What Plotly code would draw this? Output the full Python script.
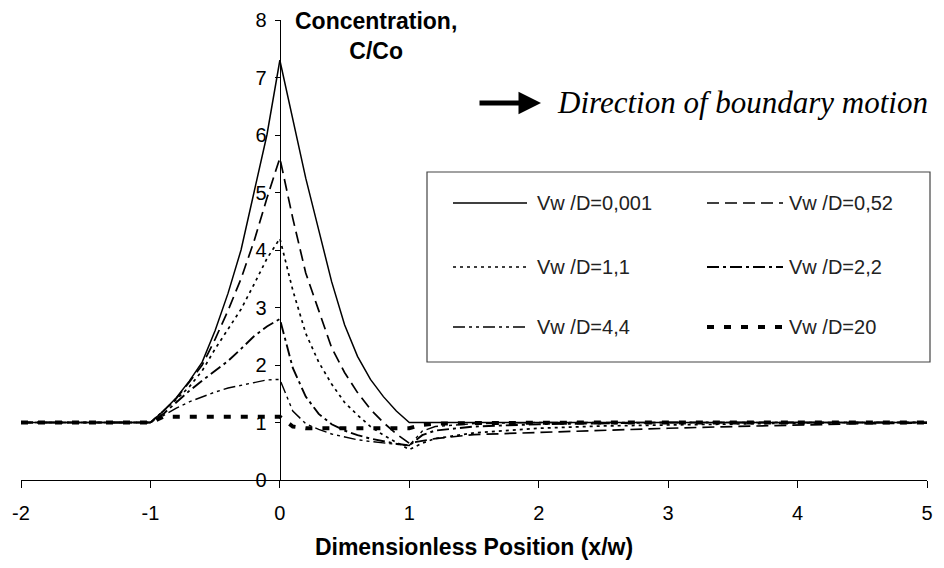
import plotly.graph_objects as go

# ---------------- data ----------------
x_pos = [-2, -1, -0.9, -0.8, -0.7, -0.6, -0.5, -0.4, -0.3, -0.2, -0.1, 0,
         0.1, 0.2, 0.3, 0.4, 0.5, 0.6, 0.7, 0.8, 0.9, 1.0,
         1.1, 1.2, 1.5, 2.0, 2.5, 3.0, 3.5, 4.0, 4.5, 5.0]

c_0001 = [1, 1, 1.2, 1.43, 1.72, 2.05, 2.6, 3.25, 4.0, 5.0, 6.0, 7.3,
          6.3, 5.25, 4.35, 3.45, 2.7, 2.15, 1.75, 1.45, 1.2, 1.0,
          1, 1, 1, 1, 1, 1, 1, 1, 1, 1]

c_052 = [1, 1, 1.2, 1.42, 1.7, 2.0, 2.45, 2.95, 3.5, 4.15, 4.9, 5.6,
         4.55, 3.6, 2.95, 2.3, 1.87, 1.52, 1.23, 1.0, 0.8, 0.64,
         0.68, 0.72, 0.79, 0.83, 0.86, 0.9, 0.93, 0.96, 0.98, 0.99]

c_11 = [1, 1, 1.2, 1.4, 1.62, 1.9, 2.28, 2.63, 2.97, 3.4, 3.85, 4.2,
        3.3, 2.55, 2.05, 1.67, 1.35, 1.13, 0.93, 0.78, 0.65, 0.53,
        0.64, 0.72, 0.82, 0.9, 0.94, 0.96, 0.98, 0.99, 1.0, 1.0]

c_22 = [1, 1, 1.15, 1.35, 1.55, 1.73, 1.9, 2.07, 2.28, 2.5, 2.67, 2.8,
        1.95, 1.45, 1.15, 0.97, 0.86, 0.78, 0.72, 0.67, 0.63, 0.6,
        0.78, 0.86, 0.93, 0.97, 0.99, 1.0, 1.0, 1.0, 1.0, 1.0]

c_44 = [1, 1, 1.12, 1.25, 1.36, 1.45, 1.53, 1.6, 1.65, 1.7, 1.74, 1.75,
        1.2, 0.98, 0.88, 0.8, 0.75, 0.7, 0.67, 0.64, 0.62, 0.6,
        0.85, 0.93, 0.98, 1.0, 1.0, 1.0, 1.0, 1.0, 1.0, 1.0]

c_20 = [1, 1, 1.1, 1.1, 1.1, 1.1, 1.1, 1.1, 1.1, 1.1, 1.1, 1.1,
        0.93, 0.9, 0.9, 0.9, 0.9, 0.9, 0.9, 0.9, 0.9, 0.9,
        0.96, 0.98, 0.99, 1.0, 1.0, 1.0, 1.0, 1.0, 1.0, 1.0]

series_names = ["Vw /D=0,001", "Vw /D=0,52", "Vw /D=1,1",
                "Vw /D=2,2", "Vw /D=4,4", "Vw /D=20"]
series_values = [c_0001, c_052, c_11, c_22, c_44, c_20]

x_ticks = [-2, -1, 0, 1, 2, 3, 4, 5]
x_tick_labels = ["-2", "-1", "0", "1", "2", "3", "4", "5"]
y_ticks = [0, 1, 2, 3, 4, 5, 6, 7, 8]

x_title = "Dimensionless Position (x/w)"
y_title = "Concentration,<br>C/Co"
note_text = "Direction of boundary motion"

# ---------------- styles ----------------
styles = [
    dict(dash="solid", width=1.5),
    dict(dash="12px,6px", width=1.7),
    dict(dash="3px,4px", width=1.7),
    dict(dash="12px,4px,3px,4px", width=1.9),
    dict(dash="12px,4px,3px,4px,3px,4px", width=1.4),
    dict(dash="7px,10px", width=4),
]

FONT = "Liberation Sans, Arial, sans-serif"

fig = go.Figure()
for name, vals, st in zip(series_names, series_values, styles):
    fig.add_trace(go.Scatter(
        x=x_pos, y=vals, mode="lines", name=name,
        line=dict(color="black", width=st["width"], dash=st["dash"]),
        showlegend=False,
    ))

# page body has an 8px margin -> figure is offset by 8px
OFF = 8
W, H = 936, 552
ML, MR, MT, MB = 13, 17, 12, 80
PW, PH = W - ML - MR, H - MT - MB


def px(xr):
    """reference-image x pixel -> paper coordinate"""
    return (xr - OFF - ML) / PW


def py(yr):
    """reference-image y pixel -> paper coordinate"""
    return (H - MB - (yr - OFF)) / PH


# ---------------- legend box (2 columns x 3 rows) ----------------
shapes = [dict(type="rect", xref="paper", yref="paper",
               x0=px(427), x1=px(930), y0=py(362), y1=py(172),
               line=dict(color="#444", width=1.2), fillcolor="white",
               layer="above")]
annotations = []
col_line = [(453, 527), (707, 783)]
col_text = [535, 787]
row_y = [203, 267, 327]
for i, (name, st) in enumerate(zip(series_names, styles)):
    r, c = divmod(i, 2)
    shapes.append(dict(type="line", xref="paper", yref="paper",
                       x0=px(col_line[c][0]), x1=px(col_line[c][1]),
                       y0=py(row_y[r]), y1=py(row_y[r]),
                       line=dict(color="black", width=st["width"], dash=st["dash"]),
                       layer="above"))
    annotations.append(dict(xref="paper", yref="paper", x=px(col_text[c]),
                            y=py(row_y[r]), text=name, showarrow=False,
                            xanchor="left", yanchor="middle",
                            font=dict(family=FONT, size=20, color="#222")))

# y-axis title (top, next to axis)
annotations.append(dict(xref="paper", yref="paper", x=px(376), y=py(36),
                        text="<b>" + y_title + "</b>", showarrow=False,
                        xanchor="center", yanchor="middle",
                        font=dict(family=FONT, size=23, color="black")))
# direction note
annotations.append(dict(xref="paper", yref="paper", x=px(555), y=py(103),
                        text="<i>" + note_text + "</i>", showarrow=False,
                        xanchor="left", yanchor="middle",
                        font=dict(family="Liberation Serif, Times New Roman, serif",
                                  size=31, color="black")))
# arrow
annotations.append(dict(xref="paper", yref="paper", x=px(541), y=py(103),
                        ax=-63, ay=0, text="", showarrow=True,
                        arrowhead=2, arrowsize=0.9, arrowwidth=5,
                        arrowcolor="black"))

fig.update_layout(
    width=W, height=H,
    margin=dict(l=ML, r=MR, t=MT, b=MB, autoexpand=False),
    paper_bgcolor="white", plot_bgcolor="white",
    shapes=shapes, annotations=annotations,
    showlegend=False,
    font=dict(family=FONT, size=20, color="black"),
)

fig.update_xaxes(
    range=[-2, 5], tickvals=x_ticks, ticktext=x_tick_labels,
    ticks="outside", ticklen=7,
    tickwidth=1.3, tickcolor="black", showline=True, linecolor="black",
    linewidth=1.3, showgrid=False, zeroline=False,
    tickfont=dict(family=FONT, size=20, color="black"),
    ticklabelstandoff=8,
    title=dict(text="<b>" + x_title + "</b>", standoff=21,
               font=dict(family=FONT, size=23, color="black")),
)
fig.update_yaxes(
    range=[0, 8], tickvals=y_ticks, ticks="outside", ticklen=5,
    tickwidth=1.3, tickcolor="black", showline=True, linecolor="black",
    linewidth=1.3, showgrid=False, zeroline=False,
    anchor="free", position=2 / 7,
    tickfont=dict(family=FONT, size=20, color="black"),
    ticklabelstandoff=4,
)

fig.write_html("out.html")
